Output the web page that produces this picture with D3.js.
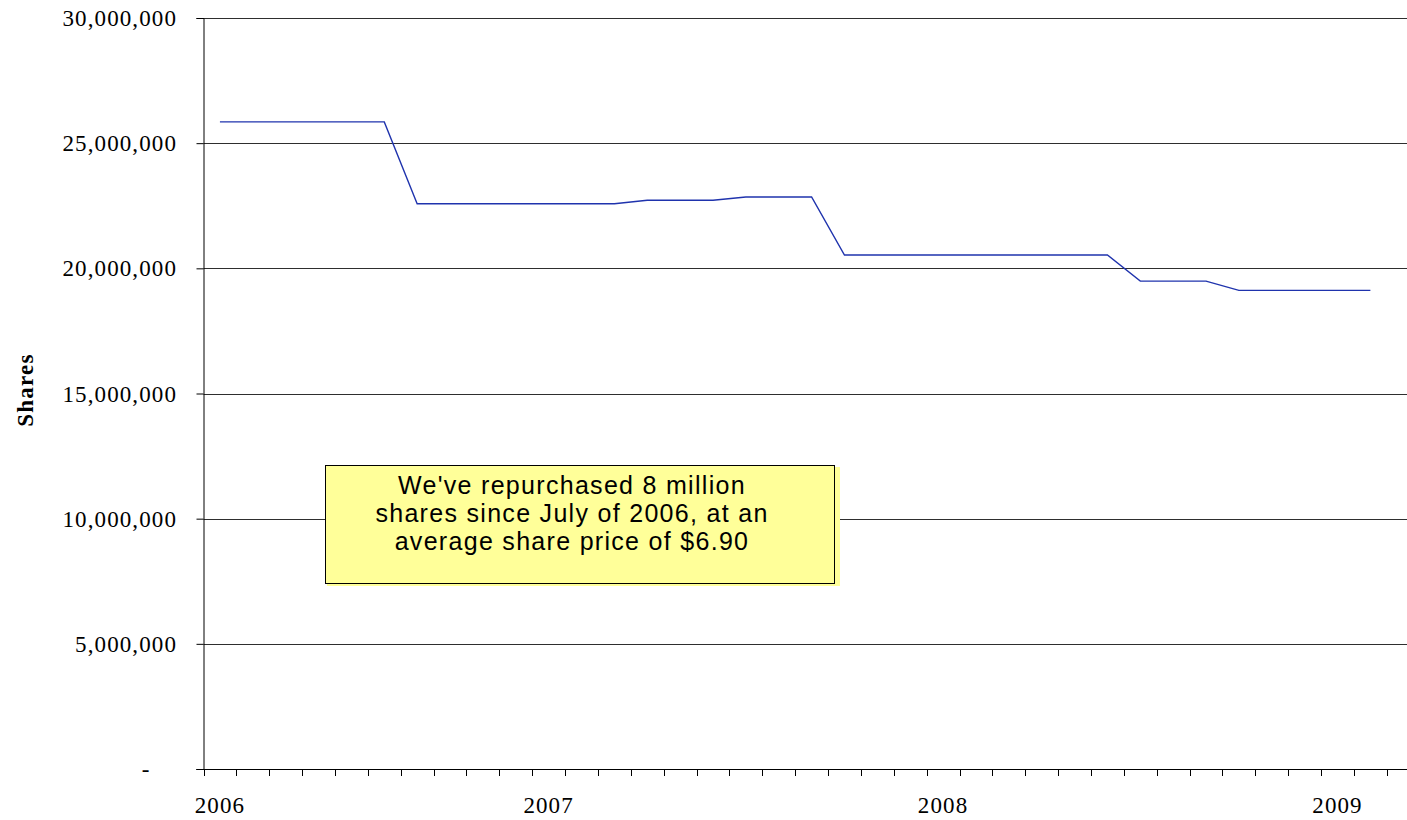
<!DOCTYPE html>
<html>
<head>
<meta charset="utf-8">
<script src="https://cdn.jsdelivr.net/npm/d3@7"></script>
<style>
  html, body { margin: 0; padding: 0; background: #fff; }
  svg { display: block; }
</style>
</head>
<body>
<svg id="chart" width="1407" height="820"></svg>
<script>
// Monthly categories, March 2006 through March 2009
const months = [
  "2006-03","2006-04","2006-05","2006-06","2006-07","2006-08","2006-09","2006-10","2006-11","2006-12",
  "2007-01","2007-02","2007-03","2007-04","2007-05","2007-06","2007-07","2007-08","2007-09","2007-10","2007-11","2007-12",
  "2008-01","2008-02","2008-03","2008-04","2008-05","2008-06","2008-07","2008-08","2008-09","2008-10","2008-11","2008-12",
  "2009-01","2009-02","2009-03"
];

// Shares outstanding at each month (no value yet for the last month)
const sharesOutstanding = [
  25850000, 25850000, 25850000, 25850000, 25850000, 25850000,
  22580000, 22580000, 22580000, 22580000, 22580000, 22580000, 22580000,
  22720000, 22720000, 22720000,
  22850000, 22850000, 22850000,
  20530000, 20530000, 20530000, 20530000, 20530000, 20530000, 20530000, 20530000, 20530000,
  19490000, 19490000, 19490000,
  19120000, 19120000, 19120000, 19120000, 19120000,
  null
];

// Year labels shown on the category axis
const yearLabels = [
  { month: "2006-03", label: "2006" },
  { month: "2007-01", label: "2007" },
  { month: "2008-01", label: "2008" },
  { month: "2009-01", label: "2009" }
];

const yTicks = [0, 5000000, 10000000, 15000000, 20000000, 25000000, 30000000];

const noteLines = [
  "We've repurchased 8 million",
  "shares since July of 2006, at an",
  "average share price of $6.90"
];

const svg = d3.select("#chart");
const plotLeft = 203.5, plotTop = 18, plotBottom = 769;
const step = 32.87;

const x = d3.scaleBand()
  .domain(months)
  .range([plotLeft, plotLeft + months.length * step])
  .paddingInner(0).paddingOuter(0);

const y = d3.scaleLinear()
  .domain([0, 30000000])
  .range([plotBottom, plotTop]);

const serif = "'Liberation Serif', 'Times New Roman', serif";
const sans = "'Liberation Sans', Arial, sans-serif";

// Horizontal gridlines
svg.append("g")
  .selectAll("line")
  .data(yTicks.filter(d => d > 0))
  .join("line")
  .attr("x1", plotLeft).attr("x2", x.range()[1])
  .attr("y1", d => Math.round(y(d)) + 0.5).attr("y2", d => Math.round(y(d)) + 0.5)
  .attr("stroke", "#2e2e2e").attr("stroke-width", 1);

// Y axis
const yAxis = d3.axisLeft(y)
  .tickValues(yTicks)
  .tickSize(7)
  .tickPadding(19.5)
  .tickFormat(d => d === 0 ? "-" : d3.format(",")(d));

const yg = svg.append("g")
  .attr("transform", `translate(${plotLeft},0)`)
  .call(yAxis);
yg.select(".domain").attr("stroke", "#000").attr("stroke-width", 1);
yg.selectAll(".tick line").attr("stroke", "#000");
yg.selectAll(".tick text")
  .attr("font-family", serif)
  .attr("font-size", 23)
  .attr("letter-spacing", "1.1px")
  .attr("fill", "#000")
  .attr("dy", "0.33em");
yg.selectAll(".tick text").filter(d => d === 0).attr("x", -53);

// X axis: baseline and monthly tick marks at category boundaries
const xg = svg.append("g");
xg.append("line")
  .attr("x1", plotLeft - 7).attr("x2", x.range()[1])
  .attr("y1", plotBottom + 0.5).attr("y2", plotBottom + 0.5)
  .attr("stroke", "#000");
const boundaries = months.map(m => x(m)).concat([x.range()[1]]);
xg.selectAll("line.tick")
  .data(boundaries)
  .join("line")
  .attr("class", "tick")
  .attr("x1", d => Math.round(d) + 0.5).attr("x2", d => Math.round(d) + 0.5)
  .attr("y1", plotBottom).attr("y2", plotBottom + 7)
  .attr("stroke", "#000");
xg.selectAll("text")
  .data(yearLabels)
  .join("text")
  .attr("x", d => x(d.month) + x.bandwidth() / 2)
  .attr("y", 813)
  .attr("text-anchor", "middle")
  .attr("font-family", serif)
  .attr("font-size", 23)
  .attr("letter-spacing", "1.1px")
  .attr("fill", "#000")
  .text(d => d.label);

// Axis title
svg.append("text")
  .attr("transform", "translate(33,390) rotate(-90)")
  .attr("text-anchor", "middle")
  .attr("font-family", serif)
  .attr("font-size", 23)
  .attr("font-weight", "bold")
  .attr("letter-spacing", "1.2px")
  .attr("fill", "#000")
  .text("Shares");

// Shares outstanding line
const line = d3.line()
  .defined(d => d.v != null)
  .x(d => x(d.m) + x.bandwidth() / 2)
  .y(d => y(d.v));

svg.append("path")
  .datum(months.map((m, i) => ({ m, v: sharesOutstanding[i] })))
  .attr("fill", "none")
  .attr("stroke", "#1f33ad")
  .attr("stroke-width", 1.4)
  .attr("d", line);

// Annotation box
const note = svg.append("g");
note.append("rect")
  .attr("x", 327).attr("y", 467).attr("width", 513).attr("height", 119)
  .attr("fill", "#ffff99");
note.append("rect")
  .attr("x", 325.5).attr("y", 465.5).attr("width", 509).attr("height", 118)
  .attr("fill", "#ffff99")
  .attr("stroke", "#000").attr("stroke-width", 1);
note.selectAll("text")
  .data(noteLines)
  .join("text")
  .attr("x", 572)
  .attr("y", (d, i) => 494 + i * 28.2)
  .attr("text-anchor", "middle")
  .attr("font-family", sans)
  .attr("font-size", 25)
  .attr("letter-spacing", "1.3px")
  .attr("fill", "#000")
  .text(d => d);
</script>
</body>
</html>
